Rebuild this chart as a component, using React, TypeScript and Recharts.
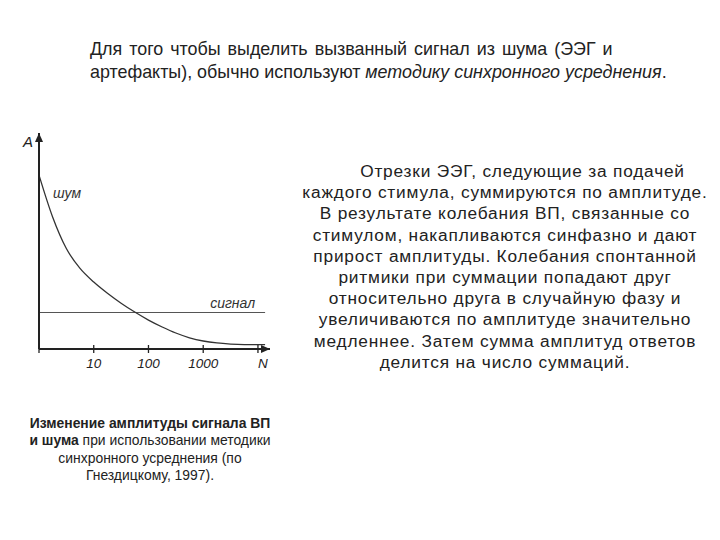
import { LineChart, Line, XAxis, YAxis, ReferenceDot } from "recharts";

// N (number of summed sweeps, log axis) and noise amplitude
const noiseN = [1, 1.78, 3.16, 5.62, 10, 17.8, 31.6, 56.2, 100, 178, 316, 562, 1000, 1778, 3162, 5623, 10000, 13500];
const noiseA = [80.5, 61.0, 46.5, 37.3, 31.0, 25.8, 21.2, 17.1, 13.4, 10.2, 7.4, 5.2, 3.7, 2.8, 2.3, 2.05, 2.0, 2.0];

const signalN = [1, 13500];
const signalA = [16.9, 16.9];

const xTicks = [1, 10, 100, 1000, 10000];
const xTickLabels = ["", "10", "100", "1000", "N"];

const titleLine1 = "Для того чтобы выделить вызванный сигнал из шума (ЭЭГ и";
const titleLine2a = "артефакты), обычно используют ";
const titleLine2b = "методику синхронного усреднения";

const bodyLines = [
  "Отрезки ЭЭГ, следующие за подачей",
  "каждого стимула, суммируются по амплитуде.",
  "В результате колебания ВП, связанные со",
  "стимулом, накапливаются синфазно и дают",
  "прирост амплитуды. Колебания спонтанной",
  "ритмики при суммации попадают друг",
  "относительно друга в случайную фазу и",
  "увеличиваются по амплитуде значительно",
  "медленнее. Затем сумма амплитуд ответов",
  "делится на число суммаций.",
];

const noiseData = noiseN.map((n, i) => ({ n, a: noiseA[i] }));
const signalData = signalN.map((n, i) => ({ n, a: signalA[i] }));

const X_MAX = 16600;
const FONT = "'Liberation Sans', Arial, sans-serif";
const INK = "#222";

const XTick = ({ x, y, payload }: { x: number; y: number; payload: { value: number } }) => {
  const idx = xTicks.indexOf(payload.value);
  const label = xTickLabels[idx] ?? "";
  const axisY = y - 12;
  const isFirst = idx === 0;
  return (
    <g>
      <line x1={x} x2={x} y1={isFirst ? axisY : axisY - 4} y2={axisY + 4} stroke={INK} strokeWidth={1.3} />
      <text
        x={x + (label === "N" ? 5 : 0)}
        y={axisY + 19}
        textAnchor="middle"
        fontSize={13.5}
        fontStyle="italic"
        fontFamily={FONT}
        fill={INK}
      >
        {label}
      </text>
    </g>
  );
};

const ArrowRight = ({ cx, cy }: { cx?: number; cy?: number }) => {
  if (cx == null || cy == null) return <g />;
  return <path d={`M${cx},${cy} L${cx - 9},${cy - 4} L${cx - 9},${cy + 4} Z`} fill={INK} />;
};

const ArrowUp = ({ cx, cy }: { cx?: number; cy?: number }) => {
  if (cx == null || cy == null) return <g />;
  return <path d={`M${cx},${cy} L${cx - 4},${cy + 9} L${cx + 4},${cy + 9} Z`} fill={INK} />;
};

const Chart = () => (
  <LineChart width={300} height={390} margin={{ top: 133, right: 30, bottom: 11, left: 38 }}>
    <XAxis
      dataKey="n"
      type="number"
      scale="log"
      domain={[1, X_MAX]}
      allowDataOverflow
      ticks={xTicks}
      interval={0}
      tick={XTick as any}
      tickLine={false}
      tickSize={4}
      tickMargin={8}
      axisLine={{ stroke: INK, strokeWidth: 2 }}
      height={30}
    />
    <YAxis
      type="number"
      domain={[0, 100]}
      allowDataOverflow
      tick={false}
      tickLine={false}
      axisLine={{ stroke: INK, strokeWidth: 2 }}
      width={1}
    />
    <Line
      data={signalData}
      dataKey="a"
      type="linear"
      stroke="#555"
      strokeWidth={1.2}
      dot={false}
      isAnimationActive={false}
    />
    <Line
      data={noiseData}
      dataKey="a"
      type="monotone"
      stroke="#333"
      strokeWidth={1.3}
      dot={false}
      isAnimationActive={false}
    />
    <ReferenceDot x={X_MAX} y={0} r={0} shape={ArrowRight as any} ifOverflow="visible" />
    <ReferenceDot x={1} y={100} r={0} shape={ArrowUp as any} ifOverflow="visible" />
    <ReferenceDot
      x={1}
      y={100}
      r={0}
      ifOverflow="visible"
      label={{ value: "A", position: "left", offset: 6, fontSize: 15, fontStyle: "italic", fontFamily: FONT, fill: INK, dy: 9 }}
    />
    <ReferenceDot
      x={1.8}
      y={72}
      r={0}
      ifOverflow="visible"
      label={{ value: "шум", position: "right", offset: 0, fontSize: 14, fontStyle: "italic", fontFamily: FONT, fill: "#333" }}
    />
    <ReferenceDot
      x={13500}
      y={16.9}
      r={0}
      ifOverflow="visible"
      label={{ value: "сигнал", position: "left", offset: 10, fontSize: 14, fontStyle: "italic", fontFamily: FONT, fill: "#333", dy: -9 }}
    />
  </LineChart>
);

export default function App() {
  return (
    <div
      style={{
        position: "absolute",
        left: 0,
        top: 0,
        width: 720,
        height: 540,
        background: "#fff",
        fontFamily: FONT,
        color: INK,
        overflow: "hidden",
      }}
    >
      <div style={{ position: "absolute", left: 90, top: 38, fontSize: 17.9, lineHeight: "23px", whiteSpace: "nowrap" }}>
        <div style={{ wordSpacing: 2 }}>{titleLine1}</div>
        <div>
          {titleLine2a}
          <i>{titleLine2b}</i>.
        </div>
      </div>

      <div style={{ position: "absolute", left: 0, top: 0 }}>
        <Chart />
      </div>

      <div
        style={{
          position: "absolute",
          left: 295,
          width: 420,
          top: 161,
          fontSize: 17.3,
          letterSpacing: 0.8,
          lineHeight: "21.2px",
          textAlign: "center",
          whiteSpace: "nowrap",
        }}
      >
        {bodyLines.map((l, i) => (
          <div key={i} style={i === 0 ? { paddingLeft: 35 } : undefined}>
            {l}
          </div>
        ))}
      </div>

      <div
        style={{
          position: "absolute",
          left: 10,
          width: 280,
          top: 415,
          fontSize: 13.9,
          lineHeight: "17.4px",
          textAlign: "center",
          whiteSpace: "nowrap",
        }}
      >
        <div>
          <b>Изменение амплитуды сигнала ВП</b>
        </div>
        <div>
          <b>и шума</b> при использовании методики
        </div>
        <div>синхронного усреднения (по</div>
        <div>Гнездицкому, 1997).</div>
      </div>
    </div>
  );
}
